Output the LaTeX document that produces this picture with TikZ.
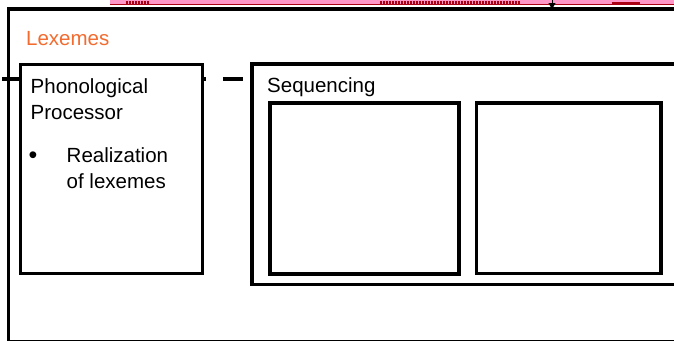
\documentclass[tikz,border=0pt]{standalone}
\usepackage{fontspec}
\setmainfont{Liberation Sans}
\usetikzlibrary{arrows.meta, positioning}

\definecolor{lexorange}{RGB}{242,108,48}
\definecolor{bandpink}{RGB}{255,150,200}
\definecolor{bandred}{RGB}{170,0,20}

\begin{document}
\begin{tikzpicture}[
    x=1pt, y=-1pt,
    font=\fontsize{20.5}{26}\selectfont,
    box/.style={
        draw=black,
        fill=white,
        line width=3.6pt,
        inner sep=0pt,
        outer sep=0pt,
        anchor=north west
    },
    label text/.style={
        anchor=base west,
        inner sep=0pt,
        align=left
    },
    link/.style={
        line width=3.6pt,
        dash pattern=on 20pt off 16.8pt
    }
]
    \useasboundingbox (0,0) rectangle (674,340);
    \clip (0,0) rectangle (674,340);

    % --- strip at the top ---
    \fill[bandpink] (110,0) rectangle (674,4.5);
    \draw[bandred, line width=1.2pt] (110,4.8) -- (674,4.8);
    \draw[bandred, line width=3pt, dash pattern=on 1.5pt off 1.5pt] (380,2) -- (520,2);
    \draw[bandred, line width=3pt, dash pattern=on 1.5pt off 1.5pt] (126,2) -- (150,2);
    \draw[bandred, line width=2pt] (612,2.5) -- (640,2.5);

    % --- outer frame ---
    \node[box, minimum width=720pt, minimum height=332.5pt] (lexframe) at (8.5,9) {};
    \node[label text, text=lexorange] (lexlbl) at (26,45.7) {Lexemes};

    \coordinate (tipstart) at (552,-3);
    \draw[-{Triangle[length=6pt,width=7pt]}, line width=1pt] (tipstart) -- (lexframe.north -| tipstart);

    % --- dashed link ---
    \coordinate (linkstart) at (2,79);
    \draw[link] (linkstart) -- (252,79);

    % --- phonological processor ---
    \node[box, minimum width=182pt, minimum height=209pt] (phon) at (20.5,64.5) {};
    \node[label text] (phonlbl) at (30.5,119.3) {Phonological\\Processor};
    \node[label text, font=\fontsize{25}{26}\selectfont] (bullet) at (28.5,163.5) {•};
    \node[label text] (phonitem) at (66.5,188) {Realization\\of lexemes};

    % --- sequencing ---
    \node[box, minimum width=448pt, minimum height=220.5pt] (seq) at (252,64) {};
    \node[label text] (seqlbl) at (267,92.3) {Sequencing};
    \node[box, minimum width=189pt, minimum height=171pt] (seqone) at (270,103) {};
    \node[box, minimum width=184.5pt, minimum height=170.5pt] (seqtwo) at (476.5,103) {};

\end{tikzpicture}
\end{document}
